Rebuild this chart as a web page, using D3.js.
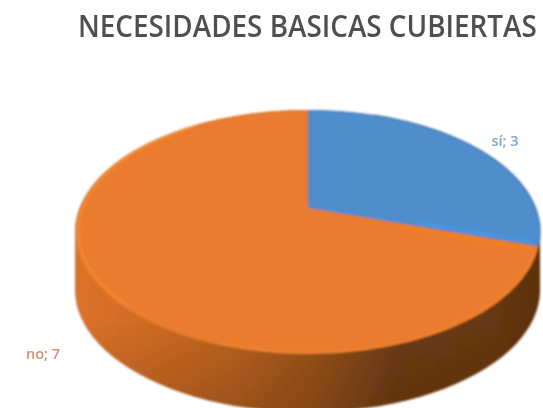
<!DOCTYPE html>
<html><head><meta charset="utf-8">
<script src="https://cdn.jsdelivr.net/npm/d3@7"></script>
<style>html,body{margin:0;padding:0;background:#fff;overflow:hidden}svg{display:block}text{font-family:"Open Sans",sans-serif}</style>
</head><body><svg id="c" width="543" height="408"></svg>
<script>
const categories = ["sí","no"];
const values = [3,7];
const sliceColors = ["#4f8dcd","#e97b2d"];
const labelColors = ["#7fa6cc","#cf8f70"];
const titleText = "NECESIDADES BASICAS CUBIERTAS";

const W=543,H=408, cx=307.5, cy=208, R=228, HY=117.3, K=0.1967, depth=58;
const svg=d3.select("#c");
const defs=svg.append("defs");
defs.append("filter").attr("id","soft").attr("x","-5%").attr("y","-5%").attr("width","110%").attr("height","110%")
  .append("feGaussianBlur").attr("stdDeviation",0.9);
defs.append("filter").attr("id","soft2").attr("x","-20%").attr("y","-50%").attr("width","140%").attr("height","200%")
  .append("feGaussianBlur").attr("stdDeviation",0.7);
const g1=defs.append("linearGradient").attr("id","sideH").attr("gradientUnits","userSpaceOnUse")
  .attr("x1",75).attr("x2",540).attr("y1",0).attr("y2",0);
[[0,"#dc7228"],[0.15,"#cf6c24"],[0.35,"#b8621f"],[0.5,"#9c551b"],[0.68,"#703d14"],[0.9,"#683812"],[1,"#5a3010"]]
  .forEach(s=>g1.append("stop").attr("offset",s[0]).attr("stop-color",s[1]));
const g2=defs.append("linearGradient").attr("id","sideV").attr("gradientUnits","userSpaceOnUse")
  .attr("x1",0).attr("x2",0).attr("y1",320).attr("y2",410);
[[0,0],[1,0.2]].forEach(s=>g2.append("stop").attr("offset",s[0]).attr("stop-color","#2a1200").attr("stop-opacity",s[1]));

// perspective projection of the disc onto the page
function proj(a,r=1,dy=0){
  const u=r*Math.sin(a), v=-r*Math.cos(a), w=1-K*v;
  return [cx+R*u/w, cy+HY*v/w+dy];
}
const line=d3.line();
const pie=d3.pie().sort(null)(values);
const arcPts=(a0,a1,dy=0,r=1)=>d3.range(0,121).map(i=>proj(a0+(a1-a0)*i/120,r,dy));
const ring=dy=>arcPts(0,2*Math.PI,dy);

const chart=svg.append("g").attr("filter","url(#soft)");
const hull=d3.polygonHull(ring(0).concat(ring(depth)));
chart.append("path").attr("d",line(hull)+"Z").attr("fill","url(#sideH)");
chart.append("path").attr("d",line(hull)+"Z").attr("fill","url(#sideV)");

chart.selectAll("path.slice").data(pie).join("path").attr("class","slice")
  .attr("d",d=>line([proj(0,0)].concat(arcPts(d.startAngle,d.endAngle)))+"Z")
  .attr("fill",(d,i)=>sliceColors[i]);

// bevel: soft highlight along the left rim of the orange slice, dark rim on the blue one
const a1=pie[1].endAngle;
chart.append("path").attr("d",line(arcPts(a1*0.62,a1*0.9,0,0.985)))
  .attr("fill","none").attr("stroke","#f58a35").attr("stroke-width",2.2);
chart.append("path").attr("d",line(arcPts(pie[0].endAngle+0.05,a1*0.55,0,0.99)))
  .attr("fill","none").attr("stroke","#f08433").attr("stroke-width",1.6);
chart.append("path").attr("d",line(arcPts(pie[0].startAngle+0.35,pie[0].endAngle)))
  .attr("fill","none").attr("stroke","#4a6a90").attr("stroke-width",1.4).attr("opacity",.8);
// brighter bands either side of the slice boundary
chart.append("path").attr("d",line([proj(pie[0].endAngle,0.42,3),proj(pie[0].endAngle,0.98,3)]))
  .attr("fill","none").attr("stroke","#f57f1e").attr("stroke-width",3);
chart.append("path").attr("d",line([proj(pie[0].endAngle,0.5,-4),proj(pie[0].endAngle,0.98,-4)]))
  .attr("fill","none").attr("stroke","#4a94e0").attr("stroke-width",4);

const text=svg.append("g").attr("filter","url(#soft2)");
const title=text.append("text").attr("font-size",30).attr("font-weight",600)
  .attr("fill","#505050").text(titleText);
const sx=459/title.node().getComputedTextLength();
title.attr("transform",`translate(78,37) scale(${sx},1)`);
const labelPos=[[505,146],[43,359]];
text.selectAll("text.lab").data(pie).join("text").attr("class","lab")
  .attr("x",(d,i)=>labelPos[i][0]).attr("y",(d,i)=>labelPos[i][1]).attr("text-anchor","middle")
  .attr("font-size",14.5).attr("font-weight",600).attr("fill",(d,i)=>labelColors[i]).text((d,i)=>categories[i]+"; "+d.value);
</script></body></html>
